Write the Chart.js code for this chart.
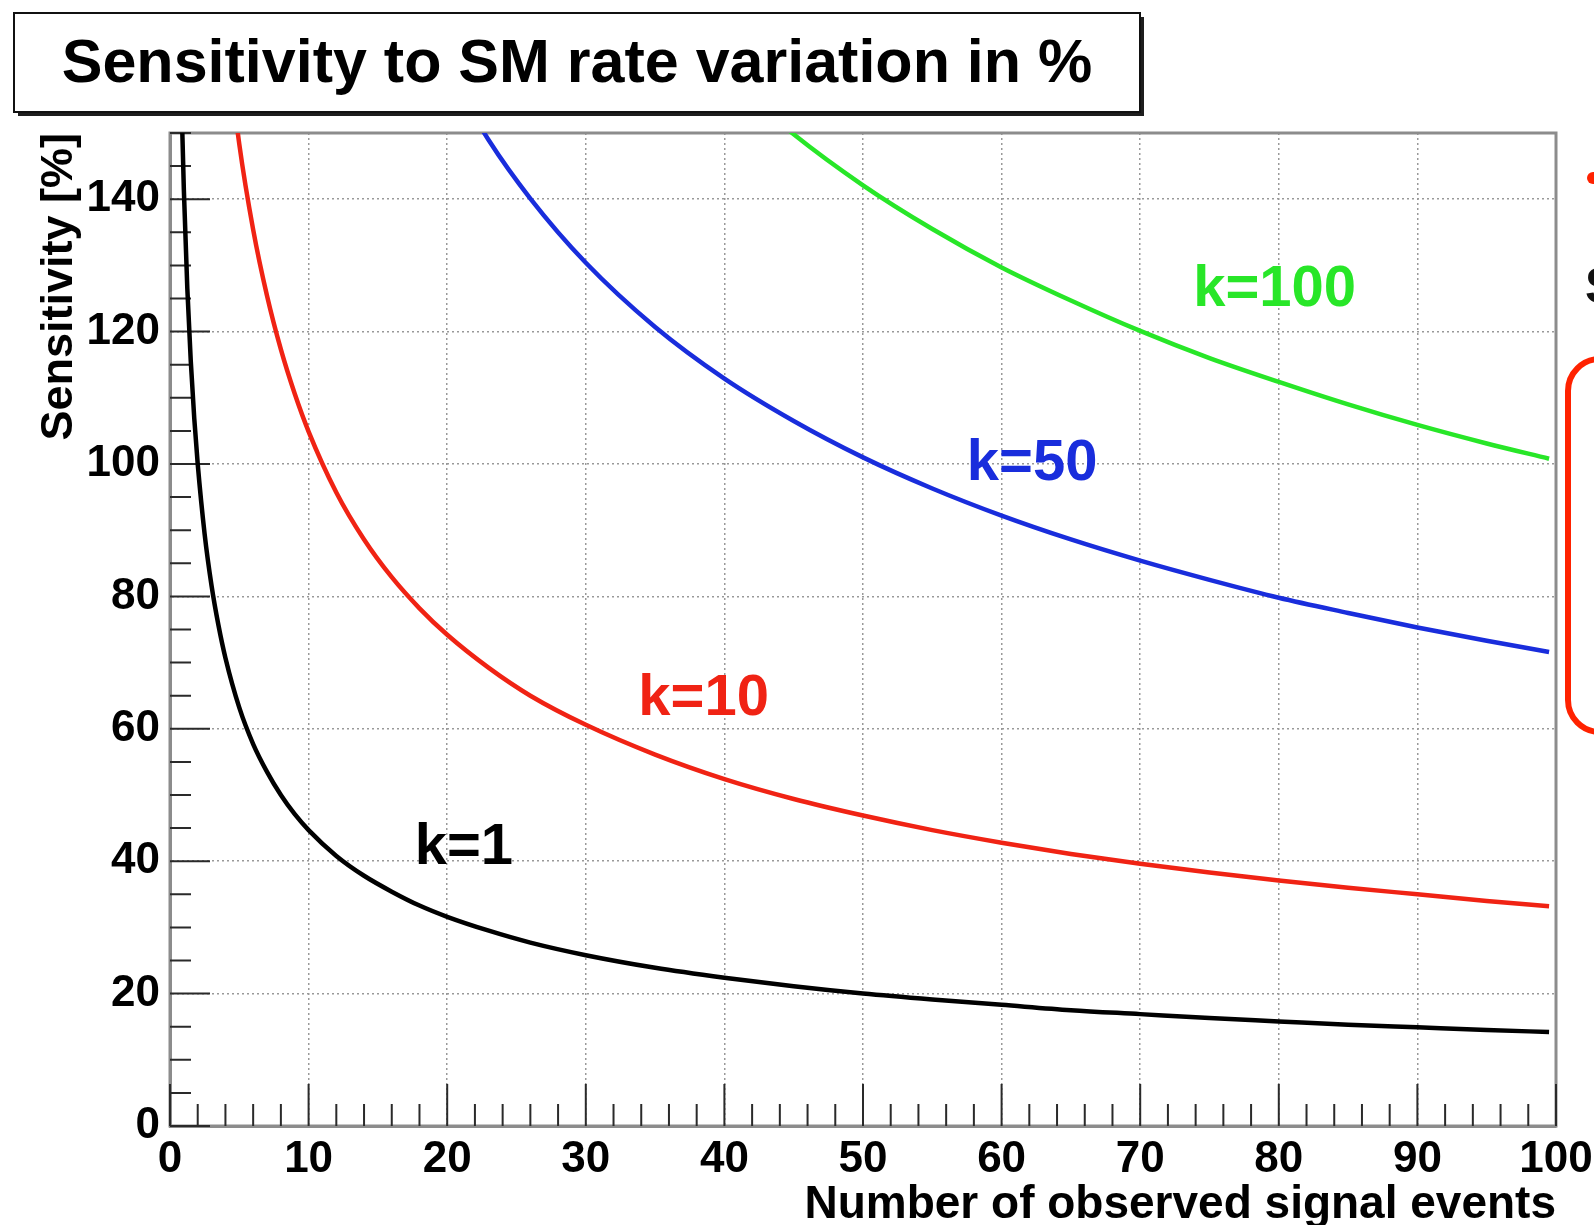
<!doctype html>
<html lang="en">
  <head>
    <meta charset="utf-8" />
    <title>Sensitivity to SM rate variation</title>
    <style>
      html,
      body {
        margin: 0;
        padding: 0;
        background: #fff;
      }
      #plot {
        display: block;
      }
    </style>
  </head>
  <body>
    <canvas id="plot" width="1594" height="1225"></canvas>

    <script src="https://cdn.jsdelivr.net/npm/chart.js/dist/chart.umd.min.js"></script>
    <script>
      // number of observed signal events (x)
      const signalEvents = [
        0.85, 1, 1.25, 1.5, 1.75, 2, 2.5, 3, 3.5, 4, 5, 6, 7, 8, 9, 10, 12, 14,
        16, 18, 20, 23, 26, 30, 35, 40, 45, 50, 55, 60, 65, 70, 75, 80, 85, 90,
        95, 99.5,
      ];

      // sensitivity in % for each k
      const sensK1 = [
        153.4, 141.4, 126.5, 115.5, 106.9, 100.0, 89.4, 81.6, 75.6, 70.7, 63.2,
        57.7, 53.5, 50.0, 47.1, 44.7, 40.8, 37.8, 35.4, 33.3, 31.6, 29.5, 27.7,
        25.8, 23.9, 22.4, 21.1, 20.0, 19.1, 18.3, 17.5, 16.9, 16.3, 15.8, 15.3,
        14.9, 14.5, 14.2,
      ];
      const sensK10 = [
        null, null, null, null, null, null, null, null, null, 165.8, 148.3,
        135.4, 125.4, 117.3, 110.6, 104.9, 95.7, 88.6, 82.9, 78.2, 74.2, 69.2,
        65.0, 60.6, 56.1, 52.4, 49.4, 46.9, 44.7, 42.8, 41.1, 39.6, 38.3, 37.1,
        36.0, 35.0, 34.0, 33.2,
      ];
      const sensK50 = [
        null, null, null, null, null, null, null, null, null, null, null, null,
        null, null, null, null, null, null, null, null, 159.7, 148.9, 140.1,
        130.4, 120.7, 112.9, 106.5, 101.0, 96.3, 92.2, 88.6, 85.4, 82.5, 79.8,
        77.5, 75.3, 73.3, 71.6,
      ];
      const sensK100 = [
        null, null, null, null, null, null, null, null, null, null, null, null,
        null, null, null, null, null, null, null, null, null, null, null, null,
        null, 158.9, 149.8, 142.1, 135.5, 129.7, 124.7, 120.1, 116.0, 112.4,
        109.0, 105.9, 103.1, 100.8,
      ];

      const curveNames = ["k=1", "k=10", "k=50", "k=100"];
      const curveColors = [
        "rgb(0, 0, 0)",
        "rgb(240, 35, 20)",
        "rgb(25, 45, 220)",
        "rgb(40, 230, 40)",
      ];
      // where each k label sits, in axis units (centre x, baseline y)
      const labelAt = [
        [21.2, 39.6],
        [38.5, 62.1],
        [62.2, 97.6],
        [79.7, 123.9],
      ];

      const FONT = "'Liberation Sans', Arial, sans-serif";

      function toPoints(ys) {
        return signalEvents.map((x, i) => ({ x: x, y: ys[i] }));
      }

      const data = {
        datasets: [sensK1, sensK10, sensK50, sensK100].map((ys, i) => ({
          label: curveNames[i],
          data: toPoints(ys),
          borderColor: curveColors[i],
          borderWidth: 4.5,
          pointRadius: 0,
          fill: false,
          spanGaps: false,
          cubicInterpolationMode: "monotone",
        })),
      };

      // ROOT style ticks (inward, with minors) and the frame
      const rootFrame = {
        id: "rootFrame",
        beforeDatasetsDraw(chart) {
          const {
            ctx,
            chartArea: { top, bottom, left, right },
            scales: { x, y },
          } = chart;
          ctx.save();
          ctx.strokeStyle = "#8c8c8c";
          ctx.lineWidth = 3;
          ctx.strokeRect(left, top, right - left, bottom - top);

          ctx.strokeStyle = "#2a2a2a";
          ctx.lineWidth = 2;
          ctx.beginPath();
          for (let v = 0; v <= 100; v += 2) {
            const px = x.getPixelForValue(v);
            const len = v % 10 === 0 ? 42 : 22;
            ctx.moveTo(px, bottom);
            ctx.lineTo(px, bottom - len);
          }
          for (let v = 0; v <= 150; v += 5) {
            const py = y.getPixelForValue(v);
            const len = v % 20 === 0 ? 40 : 21;
            ctx.moveTo(left, py);
            ctx.lineTo(left + len, py);
          }
          ctx.stroke();
          ctx.restore();
        },
      };

      // k labels next to the curves
      const curveLabels = {
        id: "curveLabels",
        afterDatasetsDraw(chart) {
          const {
            ctx,
            scales: { x, y },
          } = chart;
          ctx.save();
          ctx.font = "bold 58px " + FONT;
          ctx.textAlign = "center";
          ctx.textBaseline = "alphabetic";
          curveNames.forEach((name, i) => {
            ctx.fillStyle = curveColors[i];
            ctx.fillText(
              name,
              x.getPixelForValue(labelAt[i][0]),
              y.getPixelForValue(labelAt[i][1])
            );
          });
          ctx.restore();
        },
      };

      // title pave with shadow + bits of the slide on the right
      const pave = {
        id: "pave",
        afterDraw(chart) {
          const { ctx } = chart;
          ctx.save();
          ctx.fillStyle = "#1e1e1e";
          ctx.fillRect(18, 17, 1126, 99);
          ctx.fillStyle = "#fff";
          ctx.fillRect(14, 13, 1126, 99);
          ctx.strokeStyle = "#111";
          ctx.lineWidth = 2;
          ctx.strokeRect(14, 13, 1126, 99);

          ctx.fillStyle = "#000";
          ctx.font = "bold 61px " + FONT;
          ctx.textAlign = "center";
          ctx.textBaseline = "alphabetic";
          ctx.fillText("Sensitivity to SM rate variation in %", 577, 82);

          ctx.fillStyle = "rgb(255, 34, 0)";
          ctx.beginPath();
          ctx.arc(1593, 178, 6, 0, Math.PI * 2);
          ctx.fill();

          ctx.fillStyle = "#111";
          ctx.font = "bold 50px " + FONT;
          ctx.textAlign = "left";
          ctx.fillText("S", 1585, 303);

          ctx.strokeStyle = "rgb(255, 34, 0)";
          ctx.lineWidth = 6;
          ctx.beginPath();
          ctx.roundRect(1568, 359, 200, 373, 32);
          ctx.stroke();
          ctx.restore();
        },
      };

      const gridStyle = {
        color: "#999",
        lineWidth: 1.5,
        drawTicks: false,
      };

      const config = {
        type: "line",
        data,
        options: {
          responsive: false,
          animation: false,
          devicePixelRatio: 1,
          layout: {
            padding: { left: 0, top: 133, right: 38, bottom: 0 },
          },
          scales: {
            x: {
              type: "linear",
              min: 0,
              max: 100,
              grid: gridStyle,
              border: { display: true, color: "#8c8c8c", width: 3, dash: [2, 3] },
              ticks: {
                stepSize: 10,
                autoSkip: false,
                maxRotation: 0,
                padding: 7,
                color: "#000",
                font: { family: FONT, size: 44, weight: "bold" },
              },
              title: {
                display: true,
                text: "Number of observed signal events",
                align: "end",
                color: "#000",
                padding: { top: 0, bottom: 0 },
                font: { family: FONT, size: 46, weight: "bold", lineHeight: 0.85 },
              },
              afterFit(scale) {
                scale.height = 99;
                scale.paddingLeft = 0;
                scale.paddingRight = 0;
              },
            },
            y: {
              type: "linear",
              min: 0,
              max: 150,
              grid: gridStyle,
              border: { display: true, color: "#8c8c8c", width: 3, dash: [2, 3] },
              ticks: {
                stepSize: 20,
                includeBounds: false,
                autoSkip: false,
                padding: 10,
                color: "#000",
                font: { family: FONT, size: 44, weight: "bold" },
              },
              title: {
                display: true,
                text: "Sensitivity [%]",
                align: "end",
                color: "#000",
                padding: { top: 33, bottom: 0 },
                font: { family: FONT, size: 45, weight: "bold" },
              },
              afterFit(scale) {
                scale.width = 170;
                scale.paddingTop = 0;
                scale.paddingBottom = 0;
              },
            },
          },
          plugins: {
            legend: { display: false },
            title: { display: false },
            tooltip: { enabled: false },
          },
        },
        plugins: [rootFrame, curveLabels, pave],
      };

      const sensChart = new Chart(document.getElementById("plot"), config);
    </script>
  </body>
</html>
